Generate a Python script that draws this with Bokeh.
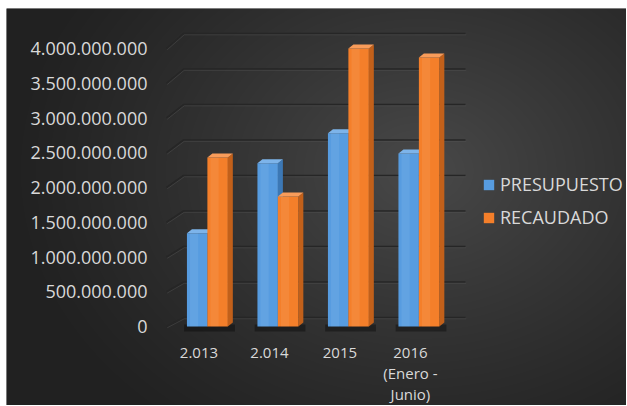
import numpy as np
from bokeh.plotting import figure
from bokeh.models import Range1d, Legend, LegendItem
from bokeh.core.properties import value
from bokeh.embed import file_html
from bokeh.resources import INLINE

# ---------------- data ----------------
categories = ["2.013", "2.014", "2015", "2016\n(Enero -\nJunio)"]
presupuesto = [1.34e9, 2.35e9, 2.78e9, 2.49e9]
recaudado = [2.43e9, 1.87e9, 4.00e9, 3.87e9]
series_names = ["PRESUPUESTO", "RECAUDADO"]
y_ticks = [0, 5e8, 1e9, 1.5e9, 2e9, 2.5e9, 3e9, 3.5e9, 4e9]
y_tick_labels = ["0", "500.000.000", "1.000.000.000", "1.500.000.000",
                 "2.000.000.000", "2.500.000.000", "3.000.000.000",
                 "3.500.000.000", "4.000.000.000"]

# ---------------- geometry / style ----------------
W, H = 626, 405
BL, BT = 6, 8                 # white strip left / top
FW, FH = W - BL, H - BT       # frame size
ux = 70.5            # px per category
uy = 69.5 / 1e9      # px per unit value
x0_px = 166 - BL     # frame px of category origin
y0_px = 326 - BT     # frame px (from top) of value 0 (front plane)

FONT = value("Open Sans")
TXT = "#D9D9D9"
BLUE_F, BLUE_T, BLUE_S = "#579CE0", "#7DB4EA", "#3C78B5"
ORNG_F, ORNG_T, ORNG_S = "#F47F2A", "#F89C5A", "#C2601A"

p = figure(width=W, height=H, output_backend="svg", toolbar_location=None,
           x_range=Range1d(-x0_px / ux, (FW - x0_px) / ux),
           y_range=Range1d(-(FH - y0_px) / uy, y0_px / uy),
           x_axis_type=None, y_axis_type=None,
           min_border_left=BL, min_border_top=BT,
           min_border_right=0, min_border_bottom=0,
           outline_line_color=None)
p.grid.visible = False
p.background_fill_color = "#333333"
p.border_fill_color = "white"

# background radial gradient (page pixel coords)
yy, xx = np.mgrid[0:FH, 0:FW].astype(float)
xx += BL
yy += BT
r = np.sqrt(((xx - 420) / 420) ** 2 + ((yy - 170) / 330) ** 2)
g = 33 + 40 * np.clip(1 - r, 0, 1) ** 1.2
g = np.flipud(g).astype(np.uint8)
img = np.empty((FH, FW), dtype=np.uint32)
view = img.view(dtype=np.uint8).reshape((FH, FW, 4))
view[..., 0] = g
view[..., 1] = g
view[..., 2] = g
view[..., 3] = 255
xr, yr = p.x_range, p.y_range
p.image_rgba(image=[img], x=xr.start, y=yr.start,
             dw=xr.end - xr.start, dh=yr.end - yr.start)

# ---------------- 3D gridlines ----------------
dx_wall = 17 / ux
x_wall_end = (465 - 166) / ux
back0 = 9 / uy  # back wall offset of value 0

def back(v):
    return back0 + v * 1.0215

g_xs = [[0, dx_wall, x_wall_end] for _ in y_ticks]
g_ys = [[v, back(v), back(v)] for v in y_ticks]
p.multi_line(xs=g_xs, ys=g_ys, line_color="#262626", line_width=1.6)
p.multi_line(xs=[[x + 0.01 for x in xs] for xs in g_xs],
             ys=[[y - 1.3 / uy for y in ys] for ys in g_ys],
             line_color="#5a5a5a", line_width=0.8, line_alpha=0.5)

# ---------------- bars ----------------
n = len(categories)
centers = [i + 0.58 for i in range(n)]
bw = 0.29
ddx = 5 / ux
ddy = 4 / uy

# floor shadows
p.quad(left=[c - bw - 0.04 for c in centers], right=[c + bw + ddx + 0.03 for c in centers],
       bottom=[-5 / uy] * n, top=[2 / uy] * n,
       fill_color="black", fill_alpha=0.35, line_color=None)

def faces(lefts, rights, tops):
    top_xs = [[l, l + ddx, r + ddx, r] for l, r in zip(lefts, rights)]
    top_ys = [[t, t + ddy, t + ddy, t] for t in tops]
    side_xs = [[r, r + ddx, r + ddx, r] for r in rights]
    side_ys = [[0, ddy, t + ddy, t] for t in tops]
    return top_xs, top_ys, side_xs, side_ys

renderers = []
for vals, lefts_off, cf, ct, cs in [
        (presupuesto, -bw, BLUE_F, BLUE_T, BLUE_S),
        (recaudado, 0.0, ORNG_F, ORNG_T, ORNG_S)]:
    lefts = [c + lefts_off for c in centers]
    rights = [l + bw for l in lefts]
    txs, tys, sxs, sys_ = faces(lefts, rights, vals)
    p.patches(xs=sxs, ys=sys_, fill_color=cs, line_color=None)
    fr = p.quad(left=lefts, right=rights, bottom=[0] * n, top=vals,
                fill_color=cf, line_color=None)
    p.quad(left=[l + bw * 0.15 for l in lefts], right=[l + bw * 0.55 for l in lefts],
           bottom=[0] * n, top=vals, fill_color="white", fill_alpha=0.07, line_color=None)
    p.patches(xs=txs, ys=tys, fill_color=ct, line_color=None)
    renderers.append(fr)

# ---------------- tick labels ----------------
p.text(x=[(147 - 166) / ux] * len(y_ticks), y=y_ticks, text=y_tick_labels,
       text_font=FONT, text_font_size="18px", text_color=TXT,
       text_align="right", text_baseline="middle")

lab_x, lab_y, lab_t = [], [], []
for c, cat in zip(centers, categories):
    for k, line in enumerate(cat.split("\n")):
        lab_x.append(c - 0.12)
        lab_y.append(-(352 + 20.5 * k - 326) / uy)
        lab_t.append(line)
p.text(x=lab_x, y=lab_y, text=lab_t,
       text_font=FONT, text_font_size="15px", text_color=TXT,
       text_align="center", text_baseline="middle")

# ---------------- legend ----------------
legend = Legend(items=[LegendItem(label=series_names[0], renderers=[renderers[0]]),
                       LegendItem(label=series_names[1], renderers=[renderers[1]])],
                location=(482 - BL, 176), orientation="vertical",
                glyph_width=13, glyph_height=13, label_standoff=5,
                label_height=24, spacing=9, padding=0, margin=0,
                border_line_color=None, background_fill_alpha=0,
                label_text_font="Open Sans", label_text_font_size="18px",
                label_text_color=TXT)
p.add_layout(legend)

open("out.html", "w").write(file_html(p, INLINE))
